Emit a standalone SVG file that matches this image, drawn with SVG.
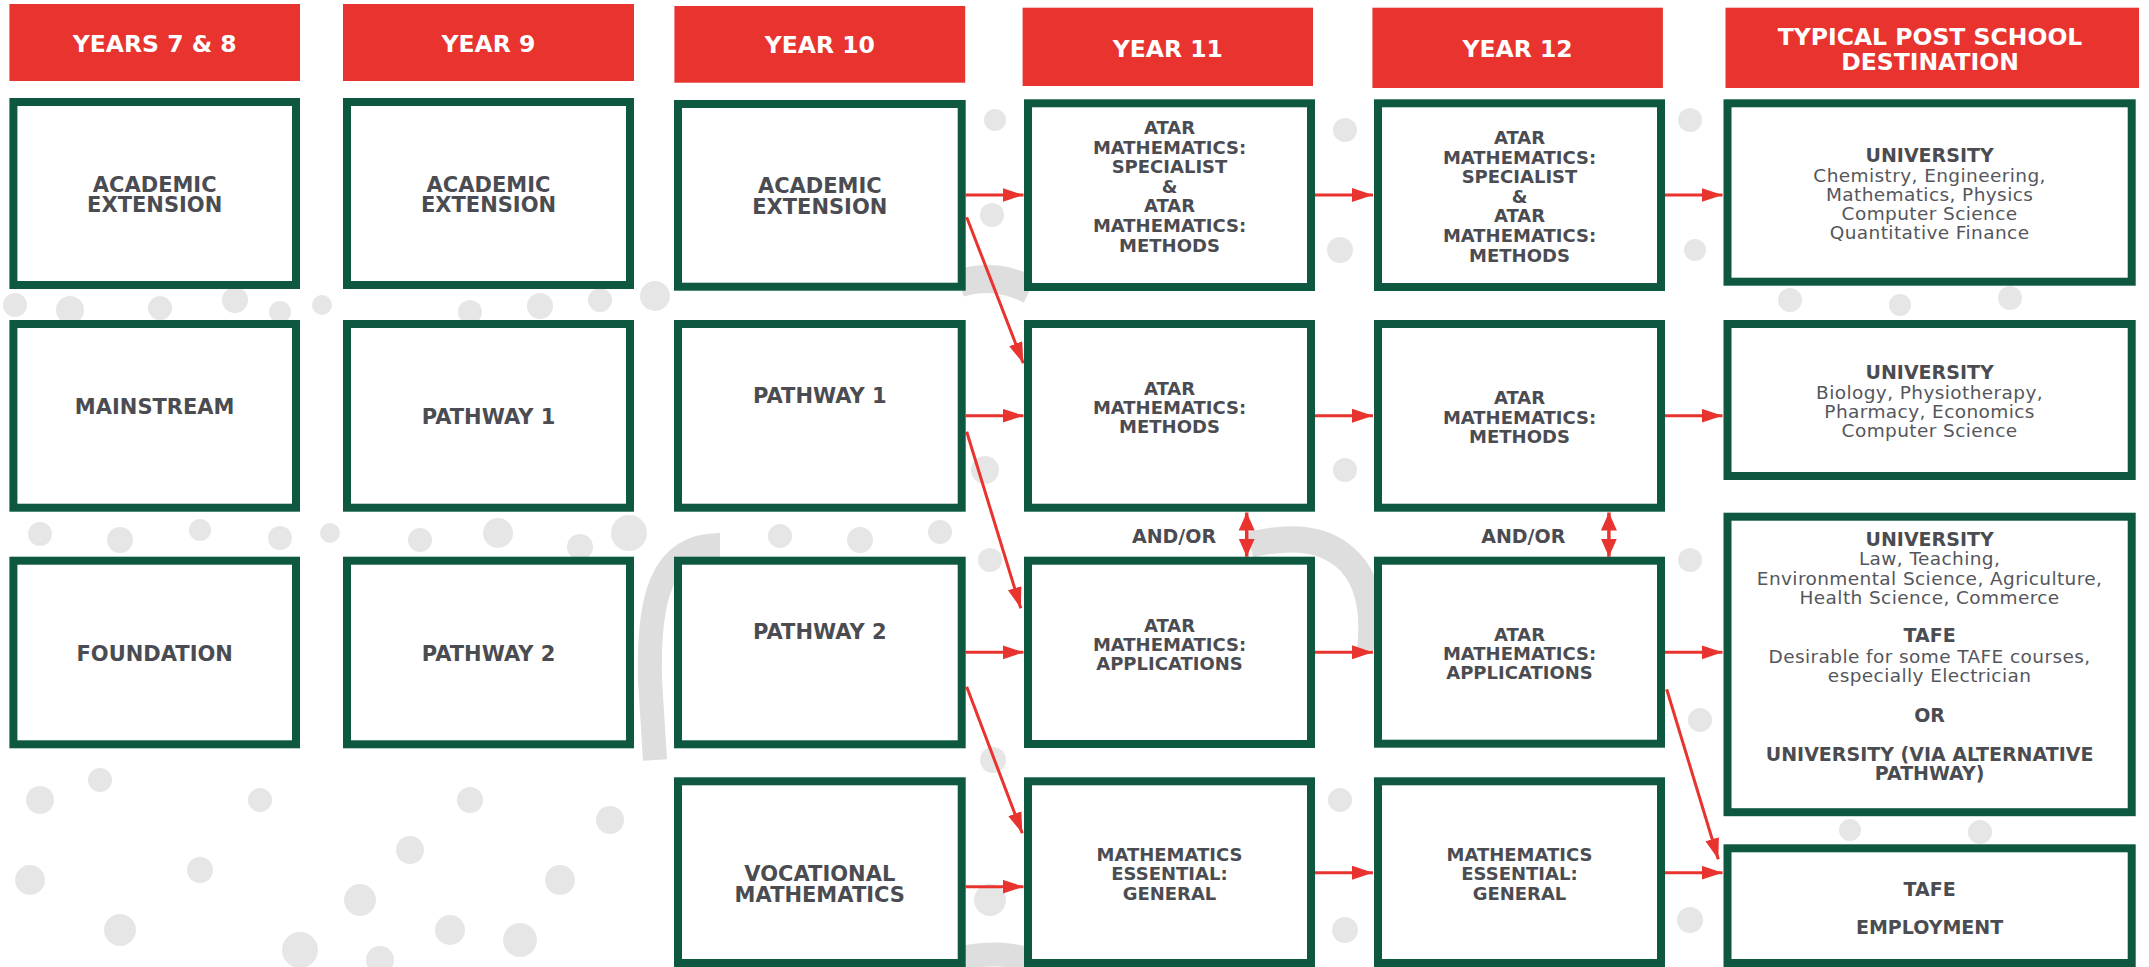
<svg xmlns="http://www.w3.org/2000/svg" width="2149" height="967" viewBox="0 0 2149 967">
<defs>
<style>
.hd{fill:#e8332f}
.box{fill:#fff;stroke:#0e5842;stroke-width:8}
text{font-family:"DejaVu Sans","Liberation Sans",sans-serif;text-anchor:middle}
.ht{fill:#fff;font-weight:bold;font-size:23.5px}
.t{fill:#4b4c51;font-weight:bold;font-size:21px}
.s{fill:#4b4c51;font-weight:bold;font-size:18px}
.d{fill:#4b4c51;font-weight:bold;font-size:19px}
.r{fill:#55565b;font-size:18.5px;letter-spacing:0.4px}
.c{fill:none;stroke:#e8332f;stroke-width:3;marker-end:url(#ah)}
.dbl{fill:none;stroke:#e8332f;stroke-width:3.5;marker-start:url(#ah2);marker-end:url(#ah2)}
.bg circle{fill:#e6e6e6}
.band{fill:none;stroke:#dedede}
</style>
<marker id="ah" markerUnits="userSpaceOnUse" markerWidth="22" markerHeight="16" refX="21" refY="7" orient="auto"><path d="M0,0 L21,7 L0,14 z" fill="#e8332f"/></marker>
<marker id="ah2" markerUnits="userSpaceOnUse" markerWidth="20" markerHeight="18" refX="18" refY="8" orient="auto-start-reverse"><path d="M0,0 L18,8 L0,16 z" fill="#e8332f"/></marker>
</defs>
<rect width="2149" height="967" fill="#fff"/>
<g id="background" class="bg">
<path class="band" stroke-width="24" d="M720,545 C660,545 648,600 650,680 L655,760"/>
<path class="band" stroke-width="26" d="M1250,545 C1330,525 1380,560 1370,650"/>
<path class="band" stroke-width="28" d="M960,283 C990,275 1010,280 1030,290"/>
<path class="band" stroke-width="24" d="M960,958 C990,952 1010,954 1030,960"/>
<circle cx="15" cy="305" r="12"/><circle cx="70" cy="310" r="14"/><circle cx="160" cy="308" r="12"/><circle cx="235" cy="300" r="13"/><circle cx="280" cy="312" r="11"/><circle cx="322" cy="305" r="10"/><circle cx="470" cy="312" r="12"/><circle cx="540" cy="306" r="13"/><circle cx="600" cy="300" r="12"/><circle cx="655" cy="296" r="15"/>
<circle cx="40" cy="534" r="12"/><circle cx="120" cy="540" r="13"/><circle cx="200" cy="530" r="11"/><circle cx="280" cy="538" r="12"/><circle cx="330" cy="533" r="10"/><circle cx="420" cy="540" r="12"/><circle cx="498" cy="533" r="15"/><circle cx="580" cy="547" r="13"/><circle cx="629" cy="533" r="18"/><circle cx="780" cy="536" r="12"/><circle cx="860" cy="540" r="13"/><circle cx="940" cy="532" r="12"/>
<circle cx="992" cy="215" r="12"/><circle cx="995" cy="120" r="11"/><circle cx="985" cy="470" r="14"/><circle cx="990" cy="560" r="12"/><circle cx="993" cy="760" r="13"/><circle cx="990" cy="900" r="16"/>
<circle cx="1345" cy="130" r="12"/><circle cx="1340" cy="250" r="13"/><circle cx="1345" cy="470" r="12"/><circle cx="1340" cy="800" r="12"/><circle cx="1345" cy="930" r="13"/>
<circle cx="1690" cy="120" r="12"/><circle cx="1695" cy="250" r="11"/><circle cx="1690" cy="560" r="12"/><circle cx="1700" cy="720" r="12"/><circle cx="1690" cy="920" r="13"/>
<circle cx="1790" cy="300" r="12"/><circle cx="1900" cy="305" r="11"/><circle cx="2010" cy="298" r="12"/><circle cx="1850" cy="830" r="11"/><circle cx="1980" cy="832" r="12"/>
<circle cx="40" cy="800" r="14"/><circle cx="100" cy="780" r="12"/><circle cx="30" cy="880" r="15"/><circle cx="120" cy="930" r="16"/><circle cx="200" cy="870" r="13"/><circle cx="260" cy="800" r="12"/><circle cx="300" cy="950" r="18"/><circle cx="360" cy="900" r="16"/><circle cx="410" cy="850" r="14"/><circle cx="470" cy="800" r="13"/><circle cx="520" cy="940" r="17"/><circle cx="560" cy="880" r="15"/><circle cx="610" cy="820" r="14"/><circle cx="380" cy="960" r="14"/><circle cx="450" cy="930" r="15"/>
</g>
<g id="headers">
<g id="h-y78"><rect class="hd" x="9.4" y="4" width="290.6" height="77"/><text class="ht" x="154.7" y="52">YEARS 7 &amp; 8</text></g>
<g id="h-y9"><rect class="hd" x="343" y="4" width="291" height="77"/><text class="ht" x="488.5" y="52">YEAR 9</text></g>
<g id="h-y10"><rect class="hd" x="674.4" y="6" width="290.8" height="76.7"/><text class="ht" x="819.8" y="53.3">YEAR 10</text></g>
<g id="h-y11"><rect class="hd" x="1022.6" y="7.7" width="290.4" height="78.3"/><text class="ht" x="1167.8" y="57.3">YEAR 11</text></g>
<g id="h-y12"><rect class="hd" x="1372.4" y="7.7" width="290.5" height="80.3"/><text class="ht" x="1517.6" y="57.3">YEAR 12</text></g>
<g id="h-dest"><rect class="hd" x="1725.5" y="7.7" width="413.5" height="80.3"/><text class="ht" x="1930" y="45" font-size="24.5">TYPICAL POST SCHOOL</text><text class="ht" x="1930" y="70" font-size="24.5">DESTINATION</text></g>
</g>
<g id="connectors">
<line class="c" x1="965.7" y1="195" x2="1023.5" y2="195"/>
<line class="c" x1="1315" y1="195" x2="1373" y2="195"/>
<line class="c" x1="1665" y1="195" x2="1722.5" y2="195"/>
<line class="c" x1="965.7" y1="415.7" x2="1023.5" y2="415.7"/>
<line class="c" x1="1315" y1="415.7" x2="1373" y2="415.7"/>
<line class="c" x1="1665" y1="415.7" x2="1722.5" y2="415.7"/>
<line class="c" x1="965.7" y1="652.3" x2="1023.5" y2="652.3"/>
<line class="c" x1="1315" y1="652.3" x2="1373" y2="652.3"/>
<line class="c" x1="1665" y1="652.3" x2="1722.5" y2="652.3"/>
<line class="c" x1="965.7" y1="886.7" x2="1023.5" y2="886.7"/>
<line class="c" x1="1315" y1="872.7" x2="1373" y2="872.7"/>
<line class="c" x1="1665" y1="872.7" x2="1722.5" y2="872.7"/>
<line class="c" x1="966.7" y1="217.3" x2="1023.3" y2="363.3"/>
<line class="c" x1="966.7" y1="431.7" x2="1020.8" y2="608.3"/>
<line class="c" x1="966.7" y1="686.7" x2="1022.3" y2="833.3"/>
<line class="c" x1="1666.7" y1="689.3" x2="1718.3" y2="859.3"/>
<line class="dbl" x1="1246.7" y1="512.5" x2="1246.7" y2="556.7"/>
<line class="dbl" x1="1608.9" y1="512.5" x2="1608.9" y2="556.7"/>
<text class="d" x="1174" y="542.7">AND/OR</text>
<text class="d" x="1523.3" y="543">AND/OR</text>
</g>
<g id="n-c1-r1"><rect class="box" x="13.4" y="102" width="282.6" height="183"/><text class="t" x="154.7" y="191.7">ACADEMIC</text><text class="t" x="154.7" y="212">EXTENSION</text></g>
<g id="n-c1-r2"><rect class="box" x="13.4" y="324" width="282.6" height="183.7"/><text class="t" x="154.7" y="414">MAINSTREAM</text></g>
<g id="n-c1-r3"><rect class="box" x="13.4" y="560.7" width="282.6" height="183.6"/><text class="t" x="154.7" y="661">FOUNDATION</text></g>
<g id="n-c2-r1"><rect class="box" x="347" y="102" width="283" height="183"/><text class="t" x="488.5" y="191.7">ACADEMIC</text><text class="t" x="488.5" y="212">EXTENSION</text></g>
<g id="n-c2-r2"><rect class="box" x="347" y="324" width="283" height="183.7"/><text class="t" x="488.5" y="424.3">PATHWAY 1</text></g>
<g id="n-c2-r3"><rect class="box" x="347" y="560.7" width="283" height="183.6"/><text class="t" x="488.5" y="661">PATHWAY 2</text></g>
<g id="n-c3-r1"><rect class="box" x="678" y="104" width="283.7" height="182.7"/><text class="t" x="819.8" y="193.3">ACADEMIC</text><text class="t" x="819.8" y="214">EXTENSION</text></g>
<g id="n-c3-r2"><rect class="box" x="678" y="324" width="283.7" height="183.7"/><text class="t" x="819.8" y="403.3">PATHWAY 1</text></g>
<g id="n-c3-r3"><rect class="box" x="678" y="560.7" width="283.7" height="183.6"/><text class="t" x="819.8" y="639.3">PATHWAY 2</text></g>
<g id="n-c3-r4"><rect class="box" x="678" y="781.3" width="283.7" height="181.7"/><text class="t" x="819.8" y="880.7">VOCATIONAL</text><text class="t" x="819.8" y="901.7">MATHEMATICS</text></g>
<g id="n-c4-r1"><rect class="box" x="1028" y="103.3" width="283" height="183.7"/><text class="s" x="1169.5" y="134">ATAR</text><text class="s" x="1169.5" y="154">MATHEMATICS:</text><text class="s" x="1169.5" y="173.3">SPECIALIST</text><text class="s" x="1169.5" y="193.3">&amp;</text><text class="s" x="1169.5" y="212.3">ATAR</text><text class="s" x="1169.5" y="232.3">MATHEMATICS:</text><text class="s" x="1169.5" y="252.3">METHODS</text></g>
<g id="n-c4-r2"><rect class="box" x="1028" y="324" width="283" height="183.7"/><text class="s" x="1169.5" y="395">ATAR</text><text class="s" x="1169.5" y="414">MATHEMATICS:</text><text class="s" x="1169.5" y="433.3">METHODS</text></g>
<g id="n-c4-r3"><rect class="box" x="1028" y="560.7" width="283" height="183.3"/><text class="s" x="1169.5" y="631.7">ATAR</text><text class="s" x="1169.5" y="650.5">MATHEMATICS:</text><text class="s" x="1169.5" y="670">APPLICATIONS</text></g>
<g id="n-c4-r4"><rect class="box" x="1028" y="781.3" width="283" height="181.7"/><text class="s" x="1169.5" y="860.7">MATHEMATICS</text><text class="s" x="1169.5" y="880">ESSENTIAL:</text><text class="s" x="1169.5" y="900">GENERAL</text></g>
<g id="n-c5-r1"><rect class="box" x="1378" y="103.3" width="283" height="183.7"/><text class="s" x="1519.5" y="144">ATAR</text><text class="s" x="1519.5" y="164">MATHEMATICS:</text><text class="s" x="1519.5" y="183.3">SPECIALIST</text><text class="s" x="1519.5" y="203.3">&amp;</text><text class="s" x="1519.5" y="222">ATAR</text><text class="s" x="1519.5" y="242.3">MATHEMATICS:</text><text class="s" x="1519.5" y="261.7">METHODS</text></g>
<g id="n-c5-r2"><rect class="box" x="1378" y="324" width="283" height="183.7"/><text class="s" x="1519.5" y="404.3">ATAR</text><text class="s" x="1519.5" y="423.5">MATHEMATICS:</text><text class="s" x="1519.5" y="443.3">METHODS</text></g>
<g id="n-c5-r3"><rect class="box" x="1378" y="560.7" width="283" height="183"/><text class="s" x="1519.5" y="640.7">ATAR</text><text class="s" x="1519.5" y="660">MATHEMATICS:</text><text class="s" x="1519.5" y="679.3">APPLICATIONS</text></g>
<g id="n-c5-r4"><rect class="box" x="1378" y="781.3" width="283" height="181.7"/><text class="s" x="1519.5" y="860.7">MATHEMATICS</text><text class="s" x="1519.5" y="880">ESSENTIAL:</text><text class="s" x="1519.5" y="900">GENERAL</text></g>
<g id="n-d1"><rect class="box" x="1727.5" y="103.3" width="404.2" height="178.4"/><text class="d" x="1929.6" y="161.7">UNIVERSITY</text><text class="r" x="1929.6" y="181.7">Chemistry, Engineering,</text><text class="r" x="1929.6" y="200.5">Mathematics, Physics</text><text class="r" x="1929.6" y="220">Computer Science</text><text class="r" x="1929.6" y="239">Quantitative Finance</text></g>
<g id="n-d2"><rect class="box" x="1727.5" y="324" width="404.2" height="152"/><text class="d" x="1929.6" y="379">UNIVERSITY</text><text class="r" x="1929.6" y="399">Biology, Physiotherapy,</text><text class="r" x="1929.6" y="418">Pharmacy, Economics</text><text class="r" x="1929.6" y="437.3">Computer Science</text></g>
<g id="n-d3"><rect class="box" x="1727.5" y="516.7" width="404.2" height="295.5"/><text class="d" x="1929.6" y="545.7">UNIVERSITY</text><text class="r" x="1929.6" y="565">Law, Teaching,</text><text class="r" x="1929.6" y="584.5">Environmental Science, Agriculture,</text><text class="r" x="1929.6" y="603.7">Health Science, Commerce</text><text class="d" x="1929.6" y="642.3">TAFE</text><text class="r" x="1929.6" y="662.7">Desirable for some TAFE courses,</text><text class="r" x="1929.6" y="681.7">especially Electrician</text><text class="d" x="1929.6" y="721.7">OR</text><text class="d" x="1929.6" y="760.7">UNIVERSITY (VIA ALTERNATIVE</text><text class="d" x="1929.6" y="780">PATHWAY)</text></g>
<g id="n-d4"><rect class="box" x="1727.5" y="848.3" width="404.2" height="114.7"/><text class="d" x="1929.6" y="895.7">TAFE</text><text class="d" x="1929.6" y="934.3">EMPLOYMENT</text></g>
</svg>
